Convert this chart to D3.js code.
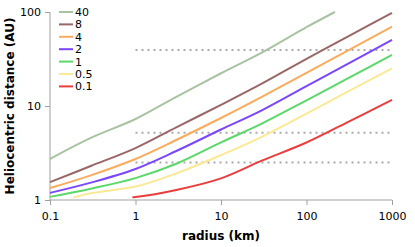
<html>
<head>
<script src="https://d3js.org/d3.v7.min.js"></script>
<style>
  body { margin: 0; background: #fff; }
  text { font-family: "DejaVu Sans", Verdana, sans-serif; }
  .axis .domain, .axis line { stroke: #a0a0a0; }
  .axis text { font-size: 11px; fill: #000; }
</style>
</head>
<body>
<script>
// radius (km) sample points
const radii = [0.1, 0.3, 1, 3, 10, 30, 100, 300, 1000];

// heliocentric distance (AU) per series, null where the curve is absent
const d40  = [2.73, 4.57, 7.27, 12.5, 22.3, 37, 69, null, null];
const d8   = [1.55, 2.3, 3.57, 5.93, 10.3, 17.3, 31.8, 54.5, 98];
const d4   = [1.34, 1.83, 2.73, 4.35, 7.45, 12.5, 22.5, 38.7, 69.8];
const d2   = [1.19, 1.53, 2.14, 3.32, 5.62, 9.0, 16.3, 27.9, 50.4];
const d1   = [1.08, 1.32, 1.71, 2.43, 4.1, 6.5, 11.5, 19.5, 34.9];
const d05  = [null, 1.18, 1.39, 1.92, 3.0, 4.7, 8.3, 14.1, 25.2];
const d01  = [null, null, 1.076, 1.28, 1.7, 2.62, 4.09, 6.7, 11.6];

// extra end points where a curve starts or leaves the frame
const start05 = [0.186, 1.06];
const start01 = [0.92, 1.07];
const end40 = [215, 100];

const labels = ['40', '8', '4', '2', '1', '0.5', '0.1'];
const colors = ['#a9c3a2', '#9a6767', '#fbab5c', '#7a46ff', '#5cd86a', '#fbe996', '#ec3d3d'];

// reference distances (dotted)
const refLines = [39.5, 5.2, 2.5];

const xTicks = [0.1, 1, 10, 100, 1000];
const yTicks = [1, 10, 100];

const width = 415, height = 247;
const margins = {top: 12, right: 23, bottom: 47, left: 50};
const chartWidth = width - margins.left - margins.right;
const chartHeight = height - margins.top - margins.bottom;

let svg = d3.select('body').append('svg')
  .attr('width', width)
  .attr('height', height);

let xScale = d3.scaleLog().domain([0.1, 1000]).range([0, chartWidth]);
let yScale = d3.scaleLog().domain([1, 100]).range([chartHeight, 0]);

let chart = svg.append('g')
  .attr('transform', `translate(${margins.left},${margins.top})`);

// axes
chart.append('g')
  .attr('class', 'axis')
  .attr('transform', `translate(0,${chartHeight})`)
  .call(d3.axisBottom(xScale).tickValues(xTicks).tickFormat(d => String(d)).tickSize(5).tickPadding(7))
  .call(g => g.select('.domain').attr('d', `M0,0H${chartWidth}`));

chart.append('g')
  .attr('class', 'axis')
  .call(d3.axisLeft(yScale).tickValues(yTicks).tickFormat(d => String(d)).tickSize(5).tickPadding(4))
  .call(g => g.select('.domain').attr('d', `M0,0V${chartHeight}`));

// dotted reference lines
chart.selectAll('.ref')
  .data(refLines)
  .enter().append('line')
  .attr('x1', xScale(1))
  .attr('x2', xScale(1000))
  .attr('y1', d => yScale(d))
  .attr('y2', d => yScale(d))
  .attr('stroke', '#aaa')
  .attr('stroke-width', 2)
  .attr('stroke-dasharray', '2,4');

// build series
function pts(vals) {
  return radii.map((r, i) => [r, vals[i]]).filter(p => p[1] != null);
}
let series = [
  pts(d40).concat([end40]),
  pts(d8),
  pts(d4),
  pts(d2),
  pts(d1),
  [start05].concat(pts(d05)),
  [start01].concat(pts(d01))
];

let line = d3.line()
  .x(d => xScale(d[0]))
  .y(d => yScale(d[1]))
  .curve(d3.curveCatmullRom.alpha(0.5));

// draw from bottom to top so 40 ends up on top
for (let i = series.length - 1; i >= 0; i--) {
  chart.append('path')
    .attr('d', line(series[i]))
    .attr('fill', 'none')
    .attr('stroke', colors[i])
    .attr('stroke-width', 2);
}

// legend
let legend = chart.append('g').attr('transform', 'translate(9,0)');
labels.forEach((lab, i) => {
  let y = i * 12.4;
  legend.append('line')
    .attr('x1', 0).attr('x2', 14)
    .attr('y1', y).attr('y2', y)
    .attr('stroke', colors[i])
    .attr('stroke-width', 2);
  legend.append('text')
    .attr('x', 16).attr('y', y + 4)
    .attr('font-size', 11)
    .text(lab);
});

// axis titles
svg.append('text')
  .attr('x', margins.left + xScale(10))
  .attr('y', 240)
  .attr('text-anchor', 'middle')
  .attr('font-size', 12)
  .attr('font-weight', 'bold')
  .text('radius (km)');

svg.append('text')
  .attr('transform', `translate(14,${margins.top + chartHeight / 2}) rotate(-90)`)
  .attr('text-anchor', 'middle')
  .attr('font-size', 12)
  .attr('font-weight', 'bold')
  .text('Heliocentric distance (AU)');
</script>
</body>
</html>
